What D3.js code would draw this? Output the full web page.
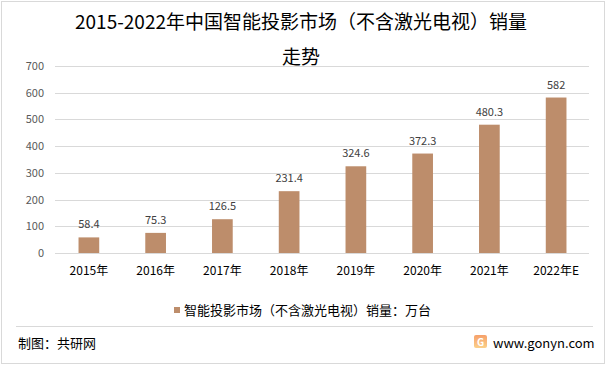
<!DOCTYPE html>
<html>
<head>
<meta charset="utf-8">
<script src="https://cdn.jsdelivr.net/npm/d3@7"></script>
<style>
  body { margin: 0; background: #fff; }
  svg { display: block; font-family: "Noto Sans CJK SC", "Microsoft YaHei", sans-serif; }
</style>
</head>
<body>
<svg id="chart" width="606" height="368"></svg>
<script>
// chart data
var years = ["2015年", "2016年", "2017年", "2018年", "2019年", "2020年", "2021年", "2022年E"];
var sales = [58.4, 75.3, 126.5, 231.4, 324.6, 372.3, 480.3, 582];
var yTicks = [0, 100, 200, 300, 400, 500, 600, 700];
var titleLines = ["2015-2022年中国智能投影市场（不含激光电视）销量", "走势"];
var seriesName = "智能投影市场（不含激光电视）销量：万台";

var svg = d3.select("#chart");
var barColor = "#bd8d6b";

// outer frame
svg.append("rect")
	.attr("x", 1.5).attr("y", 1.5)
	.attr("width", 603).attr("height", 362)
	.attr("fill", "none")
	.attr("stroke", "#d9d9d9");

// title
svg.selectAll(".title")
	.data(titleLines)
	.enter().append("text")
	.attr("class", "title")
	.attr("x", 301)
	.attr("y", function(d, i) { return 29 + i * 35; })
	.attr("text-anchor", "middle")
	.attr("font-size", 19)
	.attr("fill", "#000")
	.text(function(d) { return d; });

var x = d3.scaleBand()
	.domain(years)
	.range([55.5, 589.5])
	.paddingInner(0.69)
	.paddingOuter(0.345);

var y = d3.scaleLinear()
	.domain([0, 700])
	.range([253, 66]);

// gridlines
svg.append("g")
	.selectAll("line")
	.data(yTicks)
	.enter().append("line")
	.attr("x1", 55).attr("x2", 589)
	.attr("y1", function(d) { return Math.round(y(d)) + 0.5; })
	.attr("y2", function(d) { return Math.round(y(d)) + 0.5; })
	.attr("stroke", "#d9d9d9");

// y axis labels
var yAxis = d3.axisLeft(y).tickValues(yTicks).tickSize(0).tickPadding(0);
var yg = svg.append("g")
	.attr("transform", "translate(44,0)")
	.call(yAxis);
yg.select(".domain").remove();
yg.selectAll("text")
	.attr("font-size", 11)
	.attr("fill", "#595959")
	.attr("font-family", "\"Noto Sans CJK SC\", sans-serif");

// bars
svg.append("g")
	.selectAll("rect")
	.data(sales)
	.enter().append("rect")
	.attr("x", function(d, i) { return x(years[i]); })
	.attr("width", x.bandwidth())
	.attr("y", function(d) { return y(d); })
	.attr("height", function(d) { return y(0) - y(d); })
	.attr("fill", barColor);

// value labels
svg.append("g")
	.selectAll("text")
	.data(sales)
	.enter().append("text")
	.attr("x", function(d, i) { return x(years[i]) + x.bandwidth() / 2; })
	.attr("y", function(d) { return y(d) - 9; })
	.attr("text-anchor", "middle")
	.attr("font-size", 11)
	.attr("fill", "#404040")
	.text(function(d) { return d; });

// x axis labels
var xAxis = d3.axisBottom(x).tickSize(0).tickPadding(0);
var xg = svg.append("g")
	.attr("transform", "translate(0,266)")
	.call(xAxis);
xg.select(".domain").remove();
xg.selectAll("text")
	.attr("font-size", 12)
	.attr("fill", "#000")
	.attr("font-family", "\"Noto Sans CJK SC\", sans-serif");

// legend
var legend = svg.append("g");
legend.append("rect")
	.attr("x", 174).attr("y", 307)
	.attr("width", 6).attr("height", 6)
	.attr("fill", barColor);
legend.append("text")
	.attr("x", 184).attr("y", 315)
	.attr("font-size", 13)
	.attr("fill", "#000")
	.text(seriesName);

// footer
svg.append("line")
	.attr("x1", 16).attr("x2", 593)
	.attr("y1", 326.5).attr("y2", 326.5)
	.attr("stroke", "#d9d9d9");

svg.append("text")
	.attr("x", 18).attr("y", 348)
	.attr("font-size", 13)
	.attr("fill", "#000")
	.text("制图：共研网");

var logoGrad = svg.append("defs").append("linearGradient")
	.attr("id", "logoGrad")
	.attr("x1", 0).attr("y1", 0).attr("x2", 0).attr("y2", 1);
logoGrad.append("stop").attr("offset", "0%").attr("stop-color", "#f6a06a");
logoGrad.append("stop").attr("offset", "100%").attr("stop-color", "#fbd08a");

svg.append("rect")
	.attr("x", 474).attr("y", 335)
	.attr("width", 13).attr("height", 13)
	.attr("rx", 2)
	.attr("fill", "url(#logoGrad)");
svg.append("text")
	.attr("x", 480.5).attr("y", 345.5)
	.attr("text-anchor", "middle")
	.attr("font-size", 10)
	.attr("font-weight", "bold")
	.attr("fill", "#fff")
	.text("G");

svg.append("text")
	.attr("x", 493).attr("y", 348)
	.attr("font-size", 13)
	.attr("fill", "#000")
	.text("www.gonyn.com");
</script>
</body>
</html>
